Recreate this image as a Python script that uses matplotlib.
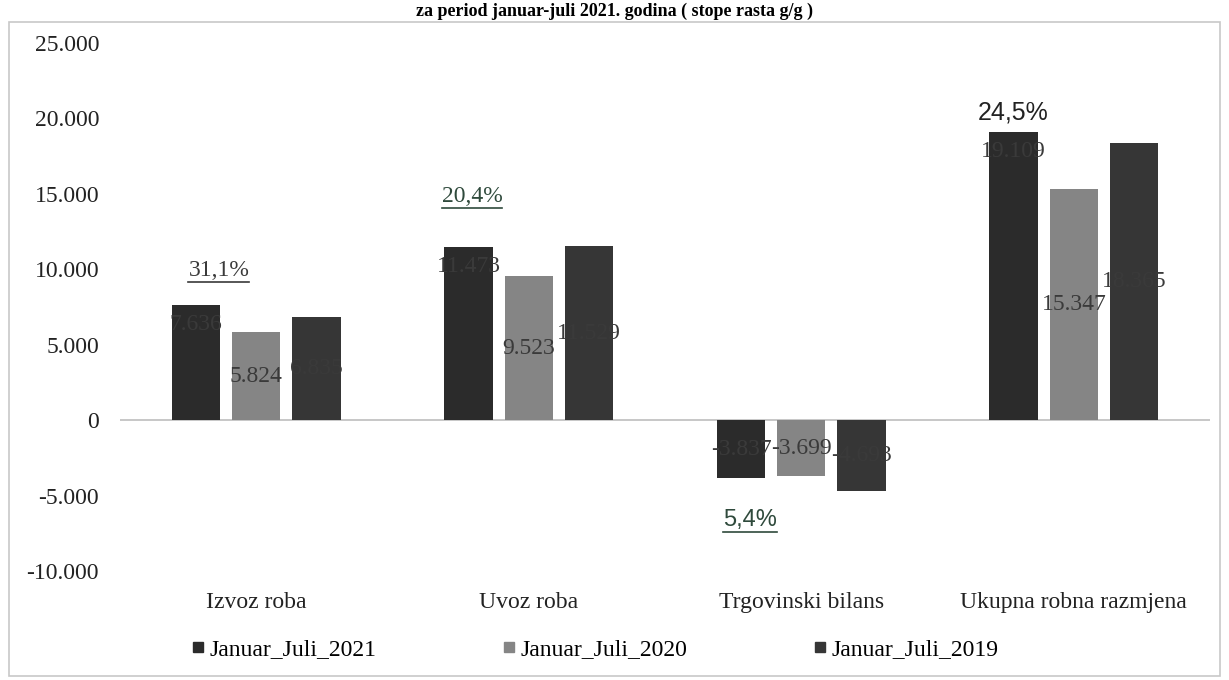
import matplotlib.pyplot as plt
import numpy as np
from matplotlib.lines import Line2D
from matplotlib.patches import Rectangle

categories = ["Izvoz roba", "Uvoz roba", "Trgovinski bilans", "Ukupna robna razmjena"]
series_names = ["Januar_Juli_2021", "Januar_Juli_2020", "Januar_Juli_2019"]
v2021 = [7636, 11473, -3837, 19109]
v2020 = [5824, 9523, -3699, 15347]
v2019 = [6835, 11529, -4693, 18365]
growth = ["31,1%", "20,4%", "5,4%", "24,5%"]
yticks = [-10000, -5000, 0, 5000, 10000, 15000, 20000, 25000]

colors = ["#2b2b2b", "#858585", "#363636"]
serif = "Liberation Serif"


def fmt(v):
    s = f"{abs(v):,}".replace(",", ".")
    return ("-" if v < 0 else "") + s


fig = plt.figure(figsize=(12.29, 6.80), dpi=100)
fig.patches.append(Rectangle((0.007, 0.006), 0.986, 0.962, transform=fig.transFigure,
                             fill=False, edgecolor="#c8c8c8", linewidth=1.2))
ax = fig.add_axes([0.0976, 0.1603, 0.887, 0.7765])

x = np.arange(len(categories))
w = 0.177
step = 0.221
data = [v2021, v2020, v2019]
for i, (vals, c) in enumerate(zip(data, colors)):
    bars = ax.bar(x + (i - 1) * step, vals, width=w, color=c, label=series_names[i], zorder=2)
    for j, (b, v) in enumerate(zip(bars, vals)):
        if i == 0 and v > 0:
            ypos = v - 1300
        else:
            ypos = v / 2
        ax.text(b.get_x() + b.get_width() / 2, ypos, fmt(v), ha="center", va="center",
                fontsize=17, family=serif, color="#3a3a3a", zorder=3)

ax.axhline(0, color="#bdbdbd", linewidth=1.2, zorder=1)
ax.set_xlim(-0.5, 3.5)
ax.set_ylim(-10000, 25000)
ax.set_yticks(yticks)
ax.set_yticklabels([fmt(t) for t in yticks], family=serif, fontsize=17, color="#222222")
ax.set_xticks(x)
ax.set_xticklabels(categories, family=serif, fontsize=17, color="#222222")
ax.tick_params(axis="y", length=0, pad=15)
ax.tick_params(axis="x", length=0, pad=15)
for s in ax.spines.values():
    s.set_visible(False)

# growth rate labels
gpos = [(-0.137, 9950, True, "#3a3a3a", serif, 17),
        (0.792, 14800, True, "#2f4a3c", serif, 17),
        (1.812, -6650, True, "#2f4a3c", "Liberation Sans", 17),
        (2.779, 20400, False, "#222222", "Liberation Sans", 18)]
fig.canvas.draw()
r = fig.canvas.get_renderer()
inv = ax.transData.inverted()
for txt, (gx, gy, under, col, fam, fs) in zip(growth, gpos):
    t = ax.text(gx, gy, txt, ha="center", va="center", fontsize=fs, family=fam, color=col)
    if under:
        bb = t.get_window_extent(renderer=r)
        (x0, y0), (x1, _) = inv.transform([(bb.x0, bb.y0 - 1), (bb.x1, bb.y0)])
        ax.add_line(Line2D([x0, x1], [y0, y0], color=col, linewidth=1.2))

handles = [Line2D([], [], marker="s", linestyle="none", markersize=7, color=c) for c in colors]
fig.legend(handles, series_names, loc="center", bbox_to_anchor=(0.482, 0.045), ncol=3,
           frameon=False, prop={"family": serif, "size": 17}, handletextpad=0.0,
           columnspacing=5.1, handlelength=1.0)

fig.text(0.5, 0.984, "za period januar-juli 2021. godina ( stope rasta g/g )", ha="center",
         va="center", fontsize=13, family=serif, fontweight="bold")

fig.savefig("out.png", dpi=100)
